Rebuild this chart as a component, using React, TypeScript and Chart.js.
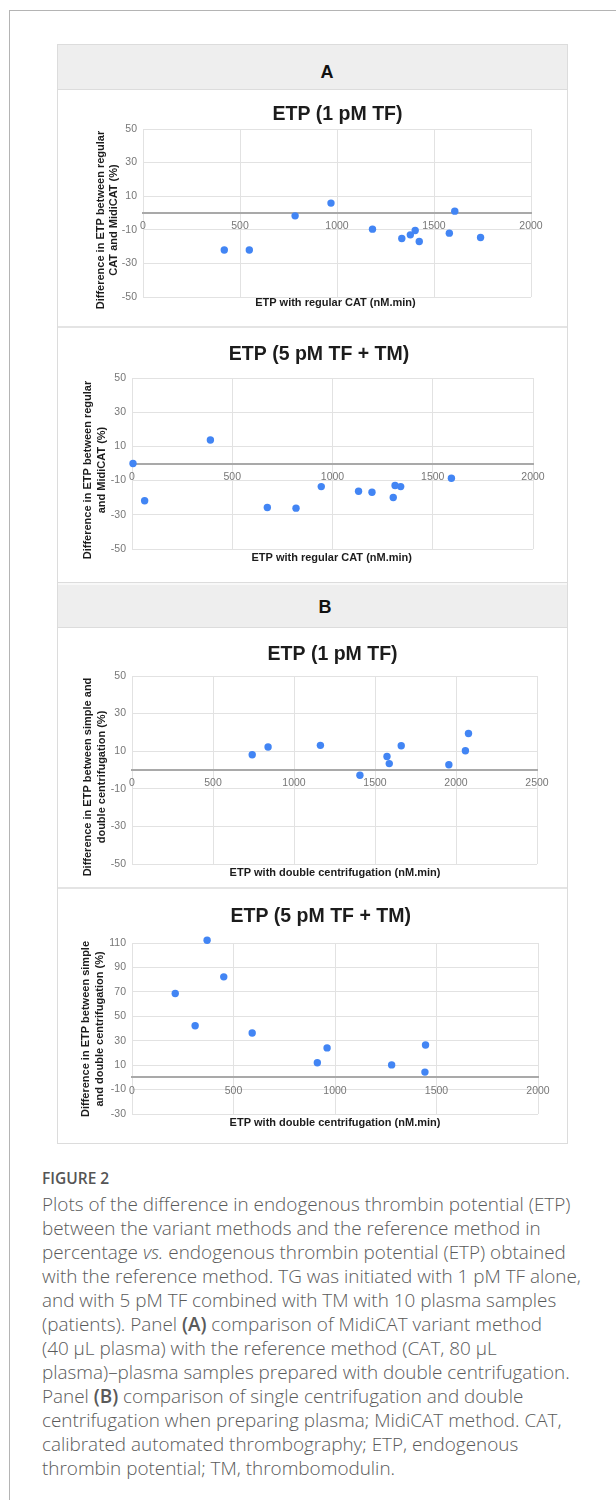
import React, { useEffect, useRef } from "react";
import { Chart, registerables } from "chart.js";

Chart.register(...registerables);

// ---------- DATA ----------
// Panel A, top: ETP (1 pM TF)
const a1Titles = ["ETP (1 pM TF)", "ETP with regular CAT (nM.min)"];
const a1YTitle = ["Difference in ETP between regular", "CAT and MidiCAT (%)"];
const a1X = [419, 548, 784, 969, 1183, 1334, 1378, 1403, 1424, 1579, 1607, 1740];
const a1Y = [-22, -22, -1.7, 5.9, -9.6, -15.2, -13.0, -10.4, -17.0, -12.0, 1.1, -14.6];

// Panel A, bottom: ETP (5 pM TF + TM)
const a2Titles = ["ETP (5 pM TF + TM)", "ETP with regular CAT (nM.min)"];
const a2YTitle = ["Difference in ETP between regular", "and MidiCAT (%)"];
const a2X = [5, 63, 391, 675, 818, 944, 1130, 1197, 1303, 1312, 1340, 1593];
const a2Y = [0, -21.8, 13.7, -25.7, -26.1, -13.5, -16.2, -16.8, -19.9, -12.9, -13.5, -8.6];

// Panel B, top: ETP (1 pM TF)
const b1Titles = ["ETP (1 pM TF)", "ETP with double centrifugation (nM.min)"];
const b1YTitle = ["Difference in ETP between simple and", "double centrifugation (%)"];
const b1X = [742, 840, 1163, 1407, 1574, 1588, 1662, 1956, 2058, 2077];
const b1Y = [8.1, 12.2, 13.1, -2.8, 7.2, 3.4, 12.9, 2.8, 10.2, 19.4];

// Panel B, bottom: ETP (5 pM TF + TM)
const b2Titles = ["ETP (5 pM TF + TM)", "ETP with double centrifugation (nM.min)"];
const b2YTitle = ["Difference in ETP between simple", "and double centrifugation (%)"];
const b2X = [213, 311, 370, 452, 592, 913, 961, 1279, 1446, 1443];
const b2Y = [68.7, 42.3, 112.2, 82.3, 36.3, 11.9, 24.1, 10.2, 26.5, 4.3];

// Tick values
const xTicks2000 = [0, 500, 1000, 1500, 2000];
const xTicks2500 = [0, 500, 1000, 1500, 2000, 2500];
const yTicks50 = [-50, -30, -10, 10, 30, 50];
const yTicks110 = [-30, -10, 10, 30, 50, 70, 90, 110];

// ---------- LAYOUT (canvas-relative) ----------
type Layout = {
  left: number; top: number; w: number; h: number;
  pl: number; pt: number; pr: number; pb: number;
  titleX: number; titleY: number;
  xTitleX: number; xTitleY: number;
  yTitleXs: number[]; yTitleY: number;
};

const L1: Layout = { left: 58, top: 90, w: 508, h: 236, pl: 85, pt: 39, pr: 35, pb: 29,
  titleX: 279.5, titleY: 25, xTitleX: 277.4, xTitleY: 213, yTitleXs: [43, 56], yTitleY: 130 };
const L2: Layout = { left: 58, top: 329, w: 508, h: 253, pl: 74, pt: 49, pr: 33, pb: 33,
  titleX: 261, titleY: 26, xTitleX: 273.7, xTitleY: 229, yTitleXs: [30, 44], yTitleY: 141 };
const L3: Layout = { left: 58, top: 628, w: 508, h: 258, pl: 74, pt: 48, pr: 29, pb: 22,
  titleX: 274.6, titleY: 27, xTitleX: 277, xTitleY: 245, yTitleXs: [30, 44], yTitleY: 149 };
const L4: Layout = { left: 58, top: 889, w: 508, h: 253, pl: 74, pt: 54, pr: 28, pb: 28,
  titleX: 262.7, titleY: 28, xTitleX: 277, xTitleY: 234, yTitleXs: [28, 42], yTitleY: 140 };

const ARIAL = '"Liberation Sans", Arial, Helvetica, sans-serif';

type PlotProps = {
  xs: number[]; ys: number[];
  xTicks: number[]; yTicks: number[];
  titles: string[]; yTitle: string[];
  lay: Layout;
};

function Scatter({ xs, ys, xTicks, yTicks, titles, yTitle, lay }: PlotProps) {
  const ref = useRef<HTMLCanvasElement | null>(null);
  useEffect(() => {
    if (!ref.current) return;
    const overlay = {
      id: "overlay",
      afterDraw(chart: any) {
        const ctx = chart.ctx as CanvasRenderingContext2D;
        ctx.save();
        ctx.fillStyle = "#1c1c1c";
        ctx.textAlign = "center";
        ctx.textBaseline = "middle";
        ctx.font = `bold 19.5px ${ARIAL}`;
        ctx.fillText(titles[0], lay.titleX, lay.titleY);
        ctx.font = `bold 11px ${ARIAL}`;
        ctx.fillText(titles[1], lay.xTitleX, lay.xTitleY);
        yTitle.forEach((line, i) => {
          ctx.save();
          ctx.translate(lay.yTitleXs[i], lay.yTitleY);
          ctx.rotate(-Math.PI / 2);
          ctx.fillText(line, 0, 0);
          ctx.restore();
        });
        ctx.restore();
      },
    };
    const tickFont = { family: ARIAL, size: 10.5 };
    const plain = (v: any) => String(v);
    const chart = new Chart(ref.current, {
      type: "scatter",
      data: {
        datasets: [
          {
            data: xs.map((x, i) => ({ x, y: ys[i] })),
            backgroundColor: "#4285f4",
            borderWidth: 0,
            pointRadius: 3.7,
            clip: false as any,
          },
        ],
      },
      options: {
        animation: false,
        responsive: false,
        layout: { padding: { left: 0, top: lay.pt, right: lay.pr, bottom: lay.pb } },
        plugins: { legend: { display: false }, tooltip: { enabled: false }, title: { display: false } },
        scales: {
          x: {
            type: "linear",
            position: { y: 0 } as any,
            min: xTicks[0],
            max: xTicks[xTicks.length - 1],
            afterBuildTicks: (s: any) => { s.ticks = xTicks.map((v) => ({ value: v })); },
            grid: { color: "#e2e2e2", lineWidth: 1, drawTicks: false },
            border: { display: true, color: "#a9a9a9", width: 2 },
            ticks: { padding: 7, color: "#777777", font: tickFont, maxRotation: 0, autoSkip: false, callback: plain },
          },
          y: {
            type: "linear",
            min: yTicks[0],
            max: yTicks[yTicks.length - 1],
            afterBuildTicks: (s: any) => { s.ticks = yTicks.map((v) => ({ value: v })); },
            afterFit: (s: any) => { s.width = lay.pl; },
            grid: { color: "#e2e2e2", lineWidth: 1, drawTicks: false },
            border: { display: false },
            ticks: { padding: 6, color: "#777777", font: tickFont, autoSkip: false, callback: plain },
          },
        },
      },
      plugins: [overlay],
    } as any);
    return () => chart.destroy();
  }, []);
  return (
    <canvas
      ref={ref}
      width={lay.w}
      height={lay.h}
      style={{ position: "absolute", left: lay.left, top: lay.top, width: lay.w, height: lay.h }}
    />
  );
}

const abs = (s: React.CSSProperties): React.CSSProperties => ({ position: "absolute", boxSizing: "border-box", ...s });

export default function App() {
  const capFont = '"Open Sans", "Noto Sans", sans-serif';
  return (
    <div style={abs({ left: 0, top: 0, width: 616, height: 1500, overflow: "hidden", background: "#fff" })}>
      {/* outer frame */}
      <div style={abs({ left: 9, top: 10, width: 700, height: 1600, borderLeft: "1px solid #b4b4b4", borderTop: "1px solid #b4b4b4" })} />
      {/* figure box */}
      <div style={abs({ left: 57, top: 44, width: 511, height: 1100, border: "1px solid #dcdcdc" })} />
      {/* header A */}
      <div style={abs({ left: 58, top: 45, width: 509, height: 45, background: "#eeeeee", borderBottom: "1px solid #dcdcdc" })} />
      <div style={abs({ left: 277, top: 62, width: 100, height: 20, lineHeight: "20px", textAlign: "center", fontFamily: ARIAL, fontWeight: 700, fontSize: 18, color: "#111" })}>A</div>
      {/* separator between A charts */}
      <div style={abs({ left: 58, top: 326, width: 509, height: 2, background: "#e4e4e4" })} />
      {/* header B */}
      <div style={abs({ left: 58, top: 582, width: 509, height: 46, background: "#eeeeee", borderTop: "1px solid #dcdcdc", borderBottom: "1px solid #dcdcdc" })} />
      <div style={abs({ left: 58, top: 583, width: 509, height: 2, background: "#f8f8f8" })} />
      <div style={abs({ left: 275, top: 597, width: 100, height: 20, lineHeight: "20px", textAlign: "center", fontFamily: ARIAL, fontWeight: 700, fontSize: 18, color: "#111" })}>B</div>
      {/* separator between B charts */}
      <div style={abs({ left: 58, top: 887, width: 509, height: 2, background: "#e4e4e4" })} />

      <Scatter xs={a1X} ys={a1Y} xTicks={xTicks2000} yTicks={yTicks50} titles={a1Titles} yTitle={a1YTitle} lay={L1} />
      <Scatter xs={a2X} ys={a2Y} xTicks={xTicks2000} yTicks={yTicks50} titles={a2Titles} yTitle={a2YTitle} lay={L2} />
      <Scatter xs={b1X} ys={b1Y} xTicks={xTicks2500} yTicks={yTicks50} titles={b1Titles} yTitle={b1YTitle} lay={L3} />
      <Scatter xs={b2X} ys={b2Y} xTicks={xTicks2000} yTicks={yTicks110} titles={b2Titles} yTitle={b2YTitle} lay={L4} />

      {/* caption */}
      <div style={abs({ left: 42, top: 1166, height: 24, lineHeight: "24px", fontFamily: capFont, fontWeight: 600, fontSize: 15.5, color: "#555", whiteSpace: "nowrap" })}>FIGURE 2</div>
      <div style={abs({ left: 42, top: 1192, width: 574, lineHeight: "24px", fontFamily: capFont, fontWeight: 300, fontSize: 18.9, color: "#5a5a5a", whiteSpace: "nowrap" })}>
        Plots of the difference in endogenous thrombin potential (ETP)<br />
        between the variant methods and the reference method in<br />
        percentage <i>vs.</i> endogenous thrombin potential (ETP) obtained<br />
        with the reference method. TG was initiated with 1 pM TF alone,<br />
        and with 5 pM TF combined with TM with 10 plasma samples<br />
        (patients). Panel <b style={{ fontWeight: 600 }}>(A)</b> comparison of MidiCAT variant method<br />
        (40 μL plasma) with the reference method (CAT, 80 μL<br />
        plasma)–plasma samples prepared with double centrifugation.<br />
        Panel <b style={{ fontWeight: 600 }}>(B)</b> comparison of single centrifugation and double<br />
        centrifugation when preparing plasma; MidiCAT method. CAT,<br />
        calibrated automated thrombography; ETP, endogenous<br />
        thrombin potential; TM, thrombomodulin.
      </div>
    </div>
  );
}
